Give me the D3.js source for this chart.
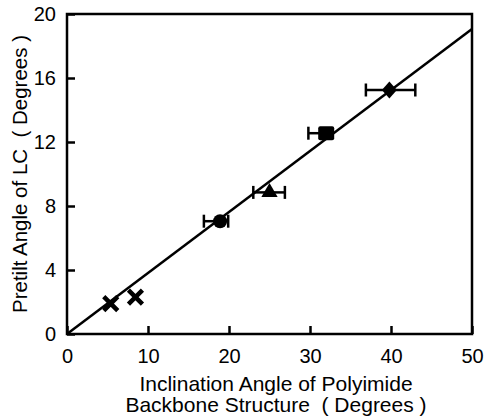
<!DOCTYPE html>
<html>
<head>
<meta charset="utf-8">
<script src="https://d3js.org/d3.v7.min.js"></script>
<style>
  body { margin: 0; background: #fff; }
  svg text { font-family: "Liberation Sans", Arial, sans-serif; fill: #000; }
</style>
</head>
<body>
<svg id="chart" width="484" height="419"></svg>
<script>
// data
var xTicks = [0, 10, 20, 30, 40, 50];
var yTicks = [0, 4, 8, 12, 16, 20];

var markers = ["diamond", "square", "triangle", "circle", "cross", "cross"];
var xVals  = [39.8, 32.0, 25.0, 18.9, 5.4, 8.45];
var yVals  = [15.25, 12.55, 8.85, 7.05, 1.9, 2.3];
var xLow   = [36.9, 29.8, 23.0, 16.9, null, null];
var xHigh  = [43.0, 32.0, 26.9, 19.9, null, null];

// fitted line (through origin)
var fitX = [0, 50];
var fitY = [0, 19.06];

var svg = d3.select("#chart");
var margin = {left: 67, right: 12, top: 14, bottom: 85};
var width = 484 - margin.left - margin.right,
    height = 419 - margin.top - margin.bottom;

var x = d3.scaleLinear().domain([0, 50]).range([margin.left, margin.left + width]);
var y = d3.scaleLinear().domain([0, 20]).range([margin.top + height, margin.top]);

// axes with inward ticks
var xAxis = svg.append("g")
  .attr("transform", "translate(0," + y(0) + ")")
  .call(d3.axisBottom(x).tickValues(xTicks).tickSize(-8).tickFormat(d3.format("d")));
var yAxis = svg.append("g")
  .attr("transform", "translate(" + x(0) + ",0)")
  .call(d3.axisLeft(y).tickValues(yTicks).tickSize(-8).tickPadding(11).tickFormat(d3.format("d")));

[xAxis, yAxis].forEach(function(a) {
  a.select(".domain").remove();
  a.selectAll(".tick line").attr("stroke", "#000").attr("stroke-width", 2.5);
  a.selectAll(".tick text").style("font-size", "20px");
});
xAxis.selectAll(".tick text").attr("dy", "0.35em").attr("y", 22);

// frame
svg.append("rect")
  .attr("x", x(0)).attr("y", y(20))
  .attr("width", x(50) - x(0)).attr("height", y(0) - y(20))
  .attr("fill", "none").attr("stroke", "#000").attr("stroke-width", 2.5);

// fit line
var line = d3.line().x(function(d, i) { return x(fitX[i]); }).y(function(d, i) { return y(fitY[i]); });
svg.append("path")
  .datum(fitX)
  .attr("d", line)
  .attr("fill", "none").attr("stroke", "#000").attr("stroke-width", 2.5);

// error bars
var capH = 13;
xVals.forEach(function(v, i) {
  if (xLow[i] == null) return;
  var g = svg.append("g").attr("stroke", "#000").attr("stroke-width", 2.5);
  var cy = y(yVals[i]);
  g.append("line").attr("x1", x(xLow[i])).attr("x2", x(xHigh[i])).attr("y1", cy).attr("y2", cy);
  g.append("line").attr("x1", x(xLow[i])).attr("x2", x(xLow[i])).attr("y1", cy - capH / 2).attr("y2", cy + capH / 2);
  if (xHigh[i] > v) {
    g.append("line").attr("x1", x(xHigh[i])).attr("x2", x(xHigh[i])).attr("y1", cy - capH / 2).attr("y2", cy + capH / 2);
  }
});

// markers
xVals.forEach(function(v, i) {
  var cx = x(v), cy = y(yVals[i]);
  var m = markers[i];
  var g = svg.append("g").attr("transform", "translate(" + cx + "," + cy + ")");
  if (m == "cross") {
    var s = 7;
    g.append("path")
      .attr("d", "M" + (-s) + "," + (-s) + "L" + s + "," + s + "M" + (-s) + "," + s + "L" + s + "," + (-s))
      .attr("stroke", "#000").attr("stroke-width", 4.5).attr("fill", "none");
  } else if (m == "diamond") {
    g.append("path").attr("d", "M0,-8.5L7.5,0L0,8.5L-7.5,0Z").attr("fill", "#000");
  } else if (m == "square") {
    g.append("rect").attr("x", -8).attr("y", -7).attr("width", 16).attr("height", 14)
      .attr("rx", 2).attr("fill", "#000");
  } else if (m == "triangle") {
    g.append("path").attr("d", d3.symbol().type(d3.symbolTriangle).size(115)()).attr("fill", "#000");
  } else {
    g.append("circle").attr("r", 7).attr("fill", "#000");
  }
});

// axis titles
svg.append("text")
  .attr("x", 276).attr("y", 391)
  .attr("text-anchor", "middle")
  .style("font-size", "21px")
  .text("Inclination Angle of Polyimide");
svg.append("text")
  .attr("x", 276).attr("y", 412)
  .attr("text-anchor", "middle")
  .style("font-size", "21px")
  .style("white-space", "pre")
  .text("Backbone Structure  ( Degrees )");
svg.append("text")
  .attr("transform", "translate(27," + (y(10)) + ") rotate(-90)")
  .attr("text-anchor", "middle")
  .style("font-size", "20.5px")
  .style("white-space", "pre")
  .text("Pretilt Angle of LC  ( Degrees )");
</script>
</body>
</html>
